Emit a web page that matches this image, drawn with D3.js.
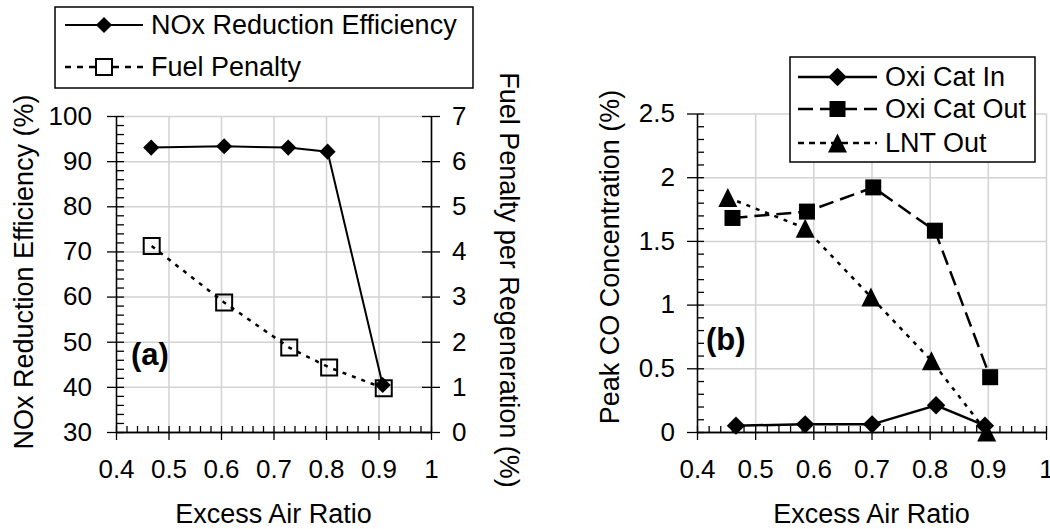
<!DOCTYPE html>
<html>
<head>
<meta charset="utf-8">
<script src="https://cdn.jsdelivr.net/npm/d3@7"></script>
<style>
body { margin: 0; background: #fff; }
svg { font-family: 'Liberation Sans', Arial, sans-serif; }
.grid line { stroke: #d2d2d2; stroke-width: 1.5; }
.grid path { display: none; }
.axis path, .axis line { stroke: #000; stroke-width: 1.3; }
.axis text { font-size: 26px; fill: #000; }
.title { font-size: 27px; fill: #000; }
.legend text { font-size: 27px; fill: #000; }
</style>
</head>
<body>
<svg width="1050" height="529"></svg>
<script>
// (a) NOx reduction and fuel penalty
const noxX = [0.467, 0.606, 0.728, 0.803, 0.908]
const noxEff = [93.0, 93.3, 93.0, 92.1, 40.4]
const fuelX = [0.468, 0.606, 0.730, 0.806, 0.910]
const fuelPen = [4.12, 2.87, 1.87, 1.43, 0.97]

// (b) peak CO
const inX = [0.467, 0.586, 0.701, 0.811, 0.895]
const coIn = [0.05, 0.06, 0.06, 0.21, 0.05]
const outX = [0.461, 0.589, 0.703, 0.809, 0.904]
const coOut = [1.68, 1.73, 1.92, 1.58, 0.43]
const lntX = [0.453, 0.586, 0.699, 0.803, 0.898]
const coLnt = [1.84, 1.60, 1.06, 0.56, 0.00]

const xTicks = [0.4, 0.5, 0.6, 0.7, 0.8, 0.9, 1]
const noxTicks = [30, 40, 50, 60, 70, 80, 90, 100]
const fuelTicks = [0, 1, 2, 3, 4, 5, 6, 7]
const coTicks = [0, 0.5, 1, 1.5, 2, 2.5]

const svg = d3.select('svg')
const xMinor = d3.range(40, 101, 2).map(v => v / 100)

const triangle = {
    draw: function (ctx, size) {
	const r = Math.sqrt(size) / 2
	ctx.moveTo(0, -r)
	ctx.lineTo(r, r)
	ctx.lineTo(-r, r)
	ctx.closePath()
    }
}

function zip(xs, ys) {
    return xs.map((v, i) => ({x: v, y: ys[i]}))
}

function grid(x, y, yVals) {
    const [x0, x1] = x.range()
    const [y0, y1] = y.range()
    svg.append('g').attr('class', 'grid')
	.attr('transform', `translate(${x0},0)`)
	.call(d3.axisLeft(y).tickValues(yVals.slice(1)).tickSize(-(x1 - x0)).tickFormat(''))
    svg.append('g').attr('class', 'grid')
	.attr('transform', `translate(0,${y0})`)
	.call(d3.axisBottom(x).tickValues(xTicks.slice(1)).tickSize(-(y0 - y1)).tickFormat(''))
}

function xAxis(x, y) {
    const y0 = y.range()[0]
    svg.append('g').attr('class', 'axis')
	.attr('transform', `translate(0,${y0})`)
	.call(d3.axisBottom(x).tickValues(xTicks).tickSize(8).tickPadding(20).tickSizeOuter(0).tickFormat(d => d))
    svg.append('g').attr('class', 'axis')
	.attr('transform', `translate(0,${y0})`)
	.call(d3.axisTop(x).tickValues(xMinor).tickSize(6).tickSizeOuter(0).tickFormat(''))
    const [x0, x1] = x.range()
    svg.append('text').attr('class', 'title')
	.attr('x', (x0 + x1) / 2).attr('y', 523)
	.attr('text-anchor', 'middle')
	.text('Excess Air Ratio')
}

function series(x, y, data, o) {
    const line = d3.line().x(d => x(d.x)).y(d => y(d.y))
    svg.append('path')
	.datum(data)
	.attr('d', line)
	.attr('fill', 'none')
	.attr('stroke', '#000')
	.attr('stroke-width', o.width)
	.attr('stroke-dasharray', o.dash)
    svg.append('g')
	.selectAll('path')
	.data(data)
	.enter()
	.append('path')
	.attr('d', d3.symbol(o.type, o.size))
	.attr('transform', d => `translate(${x(d.x)},${y(d.y)}) rotate(${o.rot || 0})`)
	.attr('fill', o.fill)
	.attr('stroke', '#000')
	.attr('stroke-width', o.stroke || 0)
}

function legendRow(g, y, x0, x1, o, label) {
    g.append('line')
	.attr('x1', x0).attr('x2', x1).attr('y1', y).attr('y2', y)
	.attr('stroke', '#000')
	.attr('stroke-width', o.width)
	.attr('stroke-dasharray', o.legendDash || o.dash)
    g.append('path')
	.attr('d', d3.symbol(o.type, o.size))
	.attr('transform', `translate(${(x0 + x1) / 2},${y}) rotate(${o.rot || 0})`)
	.attr('fill', o.fill === 'none' ? '#fff' : o.fill)
	.attr('stroke', '#000')
	.attr('stroke-width', o.stroke || 0)
    g.append('text')
	.attr('x', x1 + 8).attr('y', y)
	.attr('dominant-baseline', 'central')
	.text(label)
}

// ---------- chart (a)
const xA = d3.scaleLinear().domain([0.4, 1]).range([116, 431])
const yA = d3.scaleLinear().domain([30, 100]).range([432, 116])
const yF = d3.scaleLinear().domain([0, 7]).range([432, 116])

grid(xA, yA, noxTicks)

svg.append('g').attr('class', 'axis')
    .attr('transform', 'translate(116,0)')
    .call(d3.axisLeft(yA).tickValues(noxTicks).tickSize(9).tickPadding(15).tickSizeOuter(0))
svg.append('g').attr('class', 'axis')
    .attr('transform', 'translate(116,0)')
    .call(d3.axisRight(yA).tickValues(d3.range(30, 101, 2)).tickSize(8).tickSizeOuter(0).tickFormat(''))
svg.append('g').attr('class', 'axis')
    .attr('transform', 'translate(431,0)')
    .call(d3.axisRight(yF).tickValues(fuelTicks).tickSize(9).tickPadding(12).tickSizeOuter(0).tickFormat(d => d))
svg.append('g').attr('class', 'axis')
    .attr('transform', 'translate(431,0)')
    .call(d3.axisLeft(yF).tickValues(fuelTicks).tickSize(9).tickSizeOuter(0).tickFormat(''))
xAxis(xA, yA)

const fuelStyle = {width: 2.5, dash: '4,6', legendDash: '6,6', type: d3.symbolSquare, size: 256, fill: 'none', stroke: 2}
const noxStyle = {width: 2, dash: null, type: d3.symbolSquare, size: 130, fill: '#000', rot: 45}
series(xA, yF, zip(fuelX, fuelPen), fuelStyle)
series(xA, yA, zip(noxX, noxEff), noxStyle)

svg.append('text')
    .attr('x', 131).attr('y', 365)
    .style('font-size', '31px').style('font-weight', 'bold')
    .text('(a)')

svg.append('text').attr('class', 'title')
    .attr('transform', 'translate(33,272) rotate(-90)')
    .attr('text-anchor', 'middle')
    .text('NOx Reduction Efficiency (%)')
svg.append('text').attr('class', 'title')
    .attr('transform', 'translate(500,280) rotate(90)')
    .attr('text-anchor', 'middle')
    .text('Fuel Penalty per Regeneration (%)')

const legA = svg.append('g').attr('class', 'legend')
legA.append('rect')
    .attr('x', 55).attr('y', 7).attr('width', 418).attr('height', 81)
    .attr('fill', '#fff').attr('stroke', '#000').attr('stroke-width', 1.5)
legendRow(legA, 25, 65, 143, noxStyle, 'NOx Reduction Efficiency')
legendRow(legA, 67, 65, 143, fuelStyle, 'Fuel Penalty')

// ---------- chart (b)
const xB = d3.scaleLinear().domain([0.4, 1]).range([697, 1046])
const yB = d3.scaleLinear().domain([0, 2.5]).range([432, 113.5])

grid(xB, yB, coTicks)

svg.append('g').attr('class', 'axis')
    .attr('transform', 'translate(697,0)')
    .call(d3.axisLeft(yB).tickValues(coTicks).tickSize(10).tickPadding(12).tickSizeOuter(0).tickFormat(d => d))
svg.append('g').attr('class', 'axis')
    .attr('transform', 'translate(697,0)')
    .call(d3.axisRight(yB).tickValues(d3.range(0, 26, 1).map(v => v / 10)).tickSize(7).tickSizeOuter(0).tickFormat(''))
xAxis(xB, yB)

const inStyle = {width: 2.5, dash: null, type: d3.symbolSquare, size: 170, fill: '#000', rot: 45}
const outStyle = {width: 2.5, dash: '15,7', type: d3.symbolSquare, size: 256, fill: '#000'}
const lntStyle = {width: 2.5, dash: '4,6', legendDash: '6,5', type: triangle, size: 361, fill: '#000'}
series(xB, yB, zip(inX, coIn), inStyle)
series(xB, yB, zip(outX, coOut), outStyle)
series(xB, yB, zip(lntX, coLnt), lntStyle)

svg.append('text')
    .attr('x', 706).attr('y', 350)
    .style('font-size', '31px').style('font-weight', 'bold')
    .text('(b)')

svg.append('text').attr('class', 'title')
    .attr('transform', 'translate(619,257) rotate(-90)')
    .attr('text-anchor', 'middle')
    .text('Peak CO Concentration (%)')

const legB = svg.append('g').attr('class', 'legend')
legB.append('rect')
    .attr('x', 790).attr('y', 57).attr('width', 245).attr('height', 105)
    .attr('fill', '#fff').attr('stroke', '#000').attr('stroke-width', 1.5)
legendRow(legB, 77, 798, 877, inStyle, 'Oxi Cat In')
legendRow(legB, 109, 798, 877, outStyle, 'Oxi Cat Out')
legendRow(legB, 143, 798, 877, lntStyle, 'LNT Out')
</script>
</body>
</html>
